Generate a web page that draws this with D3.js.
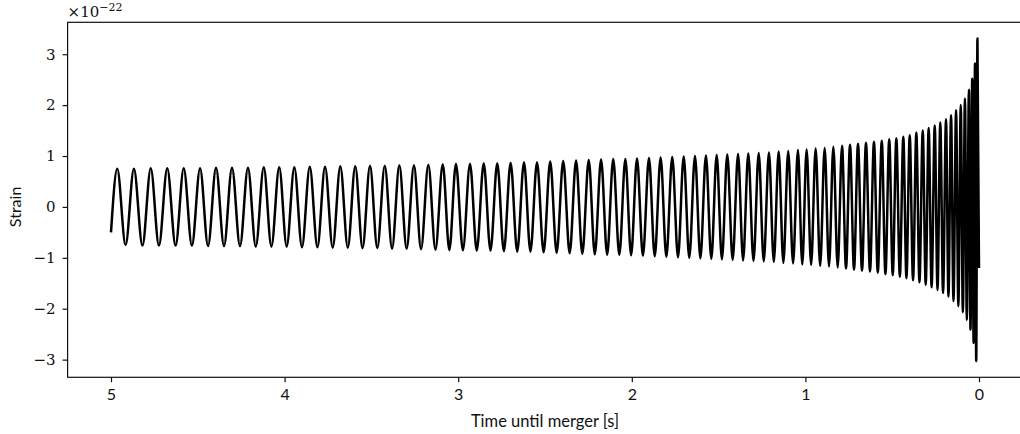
<!DOCTYPE html>
<html>
<head>
<meta charset="utf-8">
<script src="https://cdn.jsdelivr.net/npm/d3@7"></script>
<style>
  body { margin: 0; background: #fff; }
  svg { display: block; }
</style>
</head>
<body>
<script>
// Valores (strain en unidades de 1e-22, tiempo en s antes de la fusión)
var tiemposPico = [4.964, 4.868, 4.771, 4.676, 4.581, 4.487, 4.395, 4.303, 4.211, 4.120,
  4.031, 3.944, 3.855, 3.767, 3.679, 3.593, 3.508, 3.423, 3.339, 3.255,
  3.172, 3.089, 3.013, 2.932, 2.853, 2.775, 2.698, 2.621, 2.546, 2.470,
  2.395, 2.321, 2.248, 2.177, 2.107, 2.037, 1.970, 1.901, 1.834, 1.767,
  1.701, 1.636, 1.573, 1.511, 1.450, 1.388, 1.329, 1.269, 1.210, 1.154,
  1.099, 1.043, 0.993, 0.941, 0.889, 0.839, 0.789, 0.743, 0.697, 0.651,
  0.605, 0.560, 0.517, 0.476, 0.436, 0.399, 0.361, 0.324, 0.290, 0.255,
  0.223, 0.190, 0.161, 0.132, 0.105, 0.081, 0.058, 0.039, 0.023, 0.009];
var valoresPico = [0.75, 0.75, 0.76, 0.76, 0.76, 0.76, 0.77, 0.77, 0.77, 0.78,
  0.78, 0.78, 0.79, 0.79, 0.80, 0.80, 0.81, 0.81, 0.82, 0.82,
  0.83, 0.84, 0.85, 0.85, 0.86, 0.86, 0.87, 0.88, 0.88, 0.89,
  0.90, 0.91, 0.92, 0.93, 0.94, 0.94, 0.95, 0.96, 0.97, 0.98,
  0.99, 1.00, 1.01, 1.02, 1.03, 1.04, 1.05, 1.06, 1.07, 1.09,
  1.10, 1.12, 1.13, 1.15, 1.16, 1.18, 1.20, 1.22, 1.24, 1.26,
  1.28, 1.30, 1.33, 1.35, 1.38, 1.41, 1.46, 1.50, 1.55, 1.60,
  1.66, 1.72, 1.80, 1.90, 2.00, 2.13, 2.30, 2.52, 2.82, 3.31];
var tiemposValle = [4.916, 4.819, 4.724, 4.628, 4.534, 4.441, 4.349, 4.257, 4.166, 4.076,
  3.988, 3.900, 3.811, 3.723, 3.636, 3.551, 3.466, 3.381, 3.297, 3.214,
  3.131, 3.051, 2.973, 2.893, 2.814, 2.737, 2.660, 2.584, 2.508, 2.433,
  2.358, 2.285, 2.213, 2.142, 2.072, 2.004, 1.936, 1.868, 1.801, 1.734,
  1.669, 1.605, 1.542, 1.481, 1.419, 1.359, 1.299, 1.240, 1.182, 1.127,
  1.071, 1.018, 0.967, 0.915, 0.864, 0.814, 0.766, 0.720, 0.674, 0.628,
  0.583, 0.539, 0.497, 0.456, 0.418, 0.380, 0.343, 0.307, 0.273, 0.239,
  0.207, 0.176, 0.147, 0.119, 0.093, 0.070, 0.049, 0.031, 0.016];
var valoresValle = [-0.75, -0.76, -0.76, -0.76, -0.76, -0.77, -0.77, -0.77, -0.78, -0.78,
  -0.78, -0.79, -0.79, -0.80, -0.80, -0.81, -0.81, -0.82, -0.82, -0.83,
  -0.84, -0.85, -0.85, -0.86, -0.86, -0.87, -0.88, -0.88, -0.89, -0.90,
  -0.91, -0.92, -0.93, -0.94, -0.94, -0.95, -0.96, -0.97, -0.98, -0.99,
  -1.00, -1.01, -1.02, -1.03, -1.04, -1.05, -1.06, -1.07, -1.08, -1.10,
  -1.11, -1.13, -1.14, -1.16, -1.17, -1.19, -1.21, -1.23, -1.25, -1.27,
  -1.29, -1.32, -1.34, -1.37, -1.40, -1.44, -1.48, -1.53, -1.58, -1.63,
  -1.69, -1.76, -1.85, -1.95, -2.07, -2.22, -2.41, -2.67, -3.03];
var puntoInicio = [5.0, -0.50];
var puntoFinal = [0.0, -1.20];

var ticksX = [5, 4, 3, 2, 1, 0];
var ticksY = [-3, -2, -1, 0, 1, 2, 3];

// Construir la serie ordenada: inicio, pico, valle, pico, ..., pico, final
var serie = [{ t: puntoInicio[0], v: puntoInicio[1] }];
for (var i = 0; i < tiemposPico.length; i++) {
    serie.push({ t: tiemposPico[i], v: valoresPico[i] });
    if (i < tiemposValle.length) serie.push({ t: tiemposValle[i], v: valoresValle[i] });
}
serie.push({ t: puntoFinal[0], v: puntoFinal[1] });

var ancho = 1020, alto = 434;
var izq = 67.6, der = 1022.4, arriba = 22.3, abajo = 377.3;

var svg = d3.select("body").append("svg")
    .attr("width", ancho)
    .attr("height", alto);

// Margen del 5% como matplotlib
var tExt = d3.extent(serie, function(d) { return d.t; });
var vExt = d3.extent(serie, function(d) { return d.v; });
var tPad = (tExt[1] - tExt[0]) * 0.05, vPad = (vExt[1] - vExt[0]) * 0.05;

var x = d3.scaleLinear().domain([tExt[1] + tPad, tExt[0] - tPad]).range([izq, der]);
var y = d3.scaleLinear().domain([vExt[0] - vPad, vExt[1] + vPad]).range([abajo, arriba]);

var fuenteSans = "Lato, 'Open Sans', sans-serif";
var fuenteSerif = "'DejaVu Serif', 'Liberation Serif', serif";

// Onda
var linea = d3.line()
    .x(function(d) { return x(d.t); })
    .y(function(d) { return y(d.v); })
    .curve(d3.curveMonotoneX);

svg.append("path")
    .datum(serie)
    .attr("d", linea)
    .attr("fill", "none")
    .attr("stroke", "black")
    .attr("stroke-width", 2.5)
    .attr("stroke-linejoin", "round");

// Ejes
var ejeX = svg.append("g")
    .attr("transform", "translate(0," + abajo + ")")
    .call(d3.axisBottom(x).tickValues(ticksX).tickSize(5).tickPadding(6).tickFormat(d3.format("d")));
ejeX.select(".domain").remove();
ejeX.selectAll("text").attr("font-family", fuenteSans).attr("font-size", "16px").attr("fill", "#111");

var ejeY = svg.append("g")
    .attr("transform", "translate(" + izq + ",0)")
    .call(d3.axisLeft(y).tickValues(ticksY).tickSize(5).tickPadding(7)
        .tickFormat(function(d) { return d < 0 ? "\u2212" + Math.abs(d) : d; }));
ejeY.select(".domain").remove();
ejeY.selectAll("text").attr("font-family", fuenteSerif).attr("font-size", "15px").attr("fill", "#111");
svg.selectAll(".tick line").attr("stroke", "#111").attr("stroke-width", 1.2);

// Marco (el borde derecho queda fuera de la imagen)
svg.append("rect")
    .attr("x", izq)
    .attr("y", arriba)
    .attr("width", der - izq)
    .attr("height", abajo - arriba)
    .attr("fill", "none")
    .attr("stroke", "#111")
    .attr("stroke-width", 1.2);

// Etiquetas
svg.append("text")
    .attr("x", x(2.5))
    .attr("y", 427)
    .attr("text-anchor", "middle")
    .attr("font-family", fuenteSans)
    .attr("font-size", "16.5px")
    .attr("fill", "#111")
    .text("Time until merger [s]");

svg.append("text")
    .attr("transform", "translate(21," + y(0) + ") rotate(-90)")
    .attr("text-anchor", "middle")
    .attr("font-family", fuenteSans)
    .attr("font-size", "16px")
    .attr("fill", "#111")
    .text("Strain");

var exponente = svg.append("text")
    .attr("x", izq)
    .attr("y", 17)
    .attr("font-family", fuenteSerif)
    .attr("font-size", "15px")
    .attr("fill", "#111");
exponente.append("tspan").text("\u00d710");
exponente.append("tspan").attr("dy", -6).attr("font-size", "11px").text("\u221222");
</script>
</body>
</html>
